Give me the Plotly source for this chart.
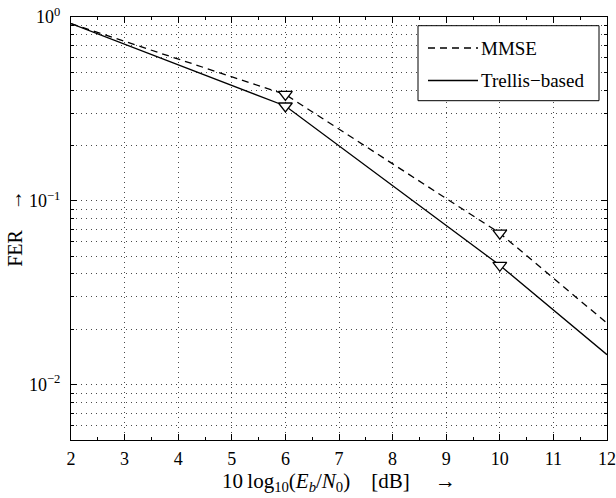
import math
import plotly.graph_objects as go

# ---- data ----
snr_db = [2, 6, 10, 12]
fer_mmse = [0.92, 0.379, 0.0667, 0.0216]
fer_trellis = [0.92, 0.328, 0.0446, 0.01456]
marked_snr = [6, 10]
series_names = ["MMSE", "Trellis\u2212based"]
x_ticks = list(range(2, 13))
y_major = [0.01, 0.1, 1]
y_major_text = ["10<sup>\u22122</sup>", "10<sup>\u22121</sup>", "10<sup>0</sup>"]
y_minor = [m * 10.0 ** e for e in (-3, -2, -1) for m in range(2, 10) if m * 10.0 ** e >= 0.005]

W, H = 616, 498
ML, MR, MT, MB = 71, 9, 17, 58
FONT = "Liberation Serif"
GRID = "#4a4a4a"
GDASH = "1px,4px"

fig = go.Figure()
for name, vals, dash in [(series_names[0], fer_mmse, "7px,5px"), (series_names[1], fer_trellis, "solid")]:
    fig.add_trace(go.Scatter(x=snr_db, y=vals, mode="lines", name=name,
                             line=dict(color="black", width=1.3, dash=dash), showlegend=False))
for vals in (fer_mmse, fer_trellis):
    mx = [x for x in snr_db if x in marked_snr]
    my = [v for x, v in zip(snr_db, vals) if x in marked_snr]
    fig.add_trace(go.Scatter(x=mx, y=my, mode="markers", showlegend=False,
                             marker=dict(symbol="triangle-down", size=12, color="white",
                                         line=dict(color="black", width=1.3))))

# manual legend (pixel -> paper coordinates of the plot area)
X0, X1, Y0, Y1 = ML, W - MR, MT, H - MB
def px(x):
    return (x - X0) / (X1 - X0)
def py(y):
    return (Y1 - y) / (Y1 - Y0)

shapes = [dict(type="rect", xref="paper", yref="paper", x0=px(418), x1=px(599), y0=py(100.7), y1=py(25.7),
               line=dict(color="black", width=1), fillcolor="white", layer="above")]
annotations = []
for (ly, dash, name) in [(48, "7px,5px", series_names[0]), (80.5, "solid", series_names[1])]:
    shapes.append(dict(type="line", xref="paper", yref="paper", x0=px(428), x1=px(478), y0=py(ly), y1=py(ly),
                       line=dict(color="black", width=1.3, dash=dash), layer="above"))
    annotations.append(dict(xref="paper", yref="paper", x=px(479), y=py(ly), text=name, showarrow=False,
                            xanchor="left", yanchor="middle", font=dict(family=FONT, size=19, color="black")))

axis_common = dict(showline=True, linecolor="black", linewidth=1, mirror="ticks", ticks="inside",
                   tickcolor="black", showgrid=True, gridcolor=GRID, gridwidth=1, griddash=GDASH,
                   tickfont=dict(family=FONT, size=18, color="black"), zeroline=False, automargin=False,
                   ticklabeloverflow="allow")

fig.update_layout(
    width=W, height=H, margin=dict(l=ML, r=MR, t=MT, b=MB, autoexpand=False),
    paper_bgcolor="white", plot_bgcolor="white",
    font=dict(family=FONT, size=18, color="black"),
    shapes=shapes, annotations=annotations,
    xaxis=dict(range=[2, 12], tickmode="array", tickvals=x_ticks, ticklen=6, ticklabelstandoff=2,
               minor=dict(ticks="inside", ticklen=3, dtick=0.5, tick0=2, tickcolor="black", showgrid=False),
               title=dict(text="10\u2009log<sub>10</sub>(<i>E</i><sub><i>b</i></sub>/<i>N</i><sub>0</sub>)"
                               "\u2003[dB]\u2003\u2009\u2192",
                          font=dict(family=FONT, size=21, color="black"), standoff=0),
               **axis_common),
    yaxis=dict(type="log", range=[math.log10(0.005), 0], tickmode="array", tickvals=y_major,
               ticktext=y_major_text, ticklen=6, ticklabelstandoff=6,
               minor=dict(ticks="inside", ticklen=3, tickmode="array", tickvals=y_minor, tickcolor="black",
                          showgrid=True, gridcolor=GRID, gridwidth=1, griddash=GDASH),
               title=dict(text="FER\u2003\u2192", font=dict(family=FONT, size=20, color="black"), standoff=0),
               **axis_common),
)

fig.write_html("out.html", config={"displayModeBar": False, "staticPlot": True},
               post_script="document.body.style.margin='0';document.body.style.overflow='hidden';")
